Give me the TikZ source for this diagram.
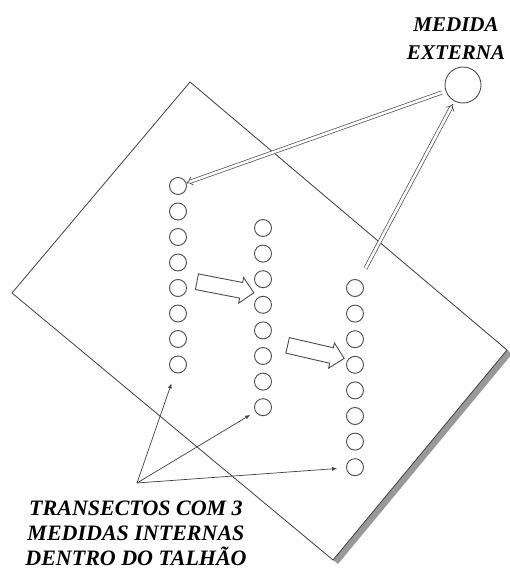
\documentclass[tikz,border=0pt]{standalone}
\usepackage{fontspec}
\setmainfont{Liberation Serif}
\usetikzlibrary{arrows.meta,shapes.arrows}
\begin{document}
\begin{tikzpicture}[x=1pt,y=-1pt,
  dot/.style={circle,draw=black!70,line width=0.9pt,minimum size=17pt,inner sep=0pt},
  plate/.style={draw=black!75,line width=0.8pt},
  dbl/.style={draw=black!70,line width=0.7pt,double=white,double distance=2.6pt,-{Implies}},
  blockarrow/.style={single arrow,draw=black!70,line width=0.9pt,minimum height=58pt,
    single arrow head extend=5pt,inner xsep=0pt,inner ysep=7.5pt},
  lbl/.style={font=\fontsize{22}{25}\selectfont\bfseries\itshape,align=center,text=black},
  pointer/.style={draw=black!75,line width=0.7pt,-{Latex[length=5pt,width=4pt]}}
]
\useasboundingbox (0,0) rectangle (510,569);
% plot with shadow
\fill[black!40,shift={(5,4)}] (190,82) -- (507,350) -- (333,560) -- (12,293) -- cycle;
\filldraw[plate,fill=white] (190,82) -- (507,350) -- (333,560) -- (12,293) -- cycle;

% external measurement
\node[circle,draw=black!70,line width=0.9pt,minimum size=36pt,inner sep=0pt] (ext) at (463,85) {};
\node[lbl,font=\fontsize{21}{28}\selectfont\bfseries\itshape] (extlbl) at (456,39) {MEDIDA\\EXTERNA};

% transects
\foreach \i in {1,...,8} {
  \node[dot] (a\i) at (178,{186+25.5*(\i-1)}) {};
  \node[dot] (b\i) at (263,{228+25.6*(\i-1)}) {};
  \node[dot] (c\i) at (355,{288+25.6*(\i-1)}) {};
}

% block arrows
\node[blockarrow,rotate=-11] (ba1) at (221.5,286.5) {};
\node[blockarrow,rotate=-13] (ba2) at (312,351) {};

% double arrows
\draw[dbl,shorten <=4pt] (ext) -- (a1);
\draw[dbl,shorten <=13pt,shorten >=3pt] (c1) -- (ext);

% label and pointers
\coordinate (org) at (137,483);
\draw[pointer,shorten >=11pt] (org) -- (a8);
\draw[pointer,shorten >=6pt] (org) -- (b8);
\draw[pointer,shorten >=9pt] (org) -- (c8);
\node[lbl] (trlbl) at (136,533) {TRANSECTOS COM 3\\MEDIDAS INTERNAS\\DENTRO DO TALHÃO};
\end{tikzpicture}
\end{document}
